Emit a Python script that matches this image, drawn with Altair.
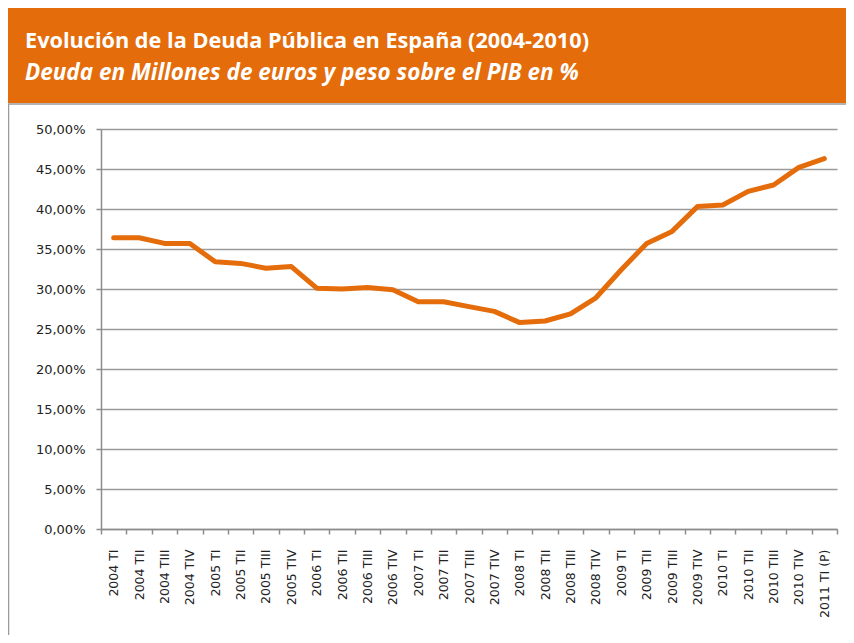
import altair as alt
import pandas as pd

categories = [
    "2004 TI", "2004 TII", "2004 TIII", "2004 TIV",
    "2005 TI", "2005 TII", "2005 TIII", "2005 TIV",
    "2006 TI", "2006 TII", "2006 TIII", "2006 TIV",
    "2007 TI", "2007 TII", "2007 TIII", "2007 TIV",
    "2008 TI", "2008 TII", "2008 TIII", "2008 TIV",
    "2009 TI", "2009 TII", "2009 TIII", "2009 TIV",
    "2010 TI", "2010 TII", "2010 TIII", "2010 TIV",
    "2011 TI (P)",
]
deuda_pib = [
    36.4, 36.4, 35.7, 35.7,
    33.4, 33.2, 32.6, 32.8,
    30.1, 30.0, 30.2, 29.9,
    28.4, 28.4, 27.8, 27.2,
    25.8, 26.0, 26.9, 28.9,
    32.4, 35.7, 37.2, 40.3,
    40.5, 42.2, 43.0, 45.2,
    46.3,
]
y_ticks = [0, 5, 10, 15, 20, 25, 30, 35, 40, 45, 50]
title_line1 = ["Evolución de la Deuda Pública en España (2004-2010)"]
title_line2 = ["Deuda en Millones de euros y peso sobre el PIB en %"]

ORANGE = "#E46C0A"
GRAY = "#8c8c8c"

W, H = 736, 400
PL, PT, PR, PB = 93, 121, 9, 106

df = pd.DataFrame({"trimestre": categories, "pct": deuda_pib})
one = pd.DataFrame({"k": [0]})

line = alt.Chart(df).mark_line(
    color=ORANGE, strokeWidth=5, strokeCap="round", strokeJoin="round"
).encode(
    x=alt.X(
        "trimestre:N",
        sort=categories,
        scale=alt.Scale(type="band", paddingInner=0, paddingOuter=0),
        axis=alt.Axis(
            title=None, labelAngle=270, labelAlign="right", labelBaseline="middle",
            labelFont="DejaVu Sans", labelFontSize=12.5, labelColor="#222",
            labelPadding=15, tickBand="extent", tickSize=5, tickColor=GRAY,
            tickWidth=1.5, domainColor=GRAY, domainWidth=1.5, grid=False,
            labelOverlap=False,
        ),
    ),
    y=alt.Y(
        "pct:Q",
        scale=alt.Scale(domain=[0, 50], nice=False),
        axis=alt.Axis(
            title=None, values=y_ticks,
            labelExpr="replace(format(datum.value/100, '.2%'), '.', ',')",
            labelFont="DejaVu Sans", labelFontSize=13, labelColor="#222",
            labelPadding=11, tickSize=5, tickColor=GRAY, tickWidth=1.5,
            domainColor=GRAY, domainWidth=1.5,
            grid=True, gridColor="#9a9a9a", gridWidth=1.5,
        ),
    ),
)

header = alt.Chart(one).mark_rect(color=ORANGE).encode(
    x=alt.value(-PL), x2=alt.value(W + PR), y=alt.value(-PT), y2=alt.value(-26)
)
header_line = alt.Chart(one).mark_rule(color="#9a9a9a", strokeWidth=1.5).encode(
    x=alt.value(-PL), x2=alt.value(W + PR), y=alt.value(-25)
)
left_border = alt.Chart(one).mark_rule(color="#9a9a9a", strokeWidth=1.5).encode(
    x=alt.value(-92.5), y=alt.value(-25), y2=alt.value(H + PB)
)

t1 = alt.Chart(pd.DataFrame({"t": title_line1})).mark_text(
    align="left", baseline="alphabetic", font="Open Sans", fontSize=21.7,
    fontWeight="bold", color="white"
).encode(text="t:N", x=alt.value(-76), y=alt.value(-81))

t2 = alt.Chart(pd.DataFrame({"t": title_line2})).mark_text(
    align="left", baseline="alphabetic", font="Open Sans", fontSize=22.5,
    fontWeight="bold", fontStyle="italic", color="white"
).encode(text="t:N", x=alt.value(-76), y=alt.value(-49))

chart = alt.layer(header, header_line, left_border, line, t1, t2).properties(
    width=W, height=H,
    autosize=alt.AutoSizeParams(type="none"),
    padding={"left": PL, "top": PT, "right": PR, "bottom": PB},
    background="white",
).configure_view(stroke=None)

chart.save("out.html", embed_options={"renderer": "svg", "actions": False})
